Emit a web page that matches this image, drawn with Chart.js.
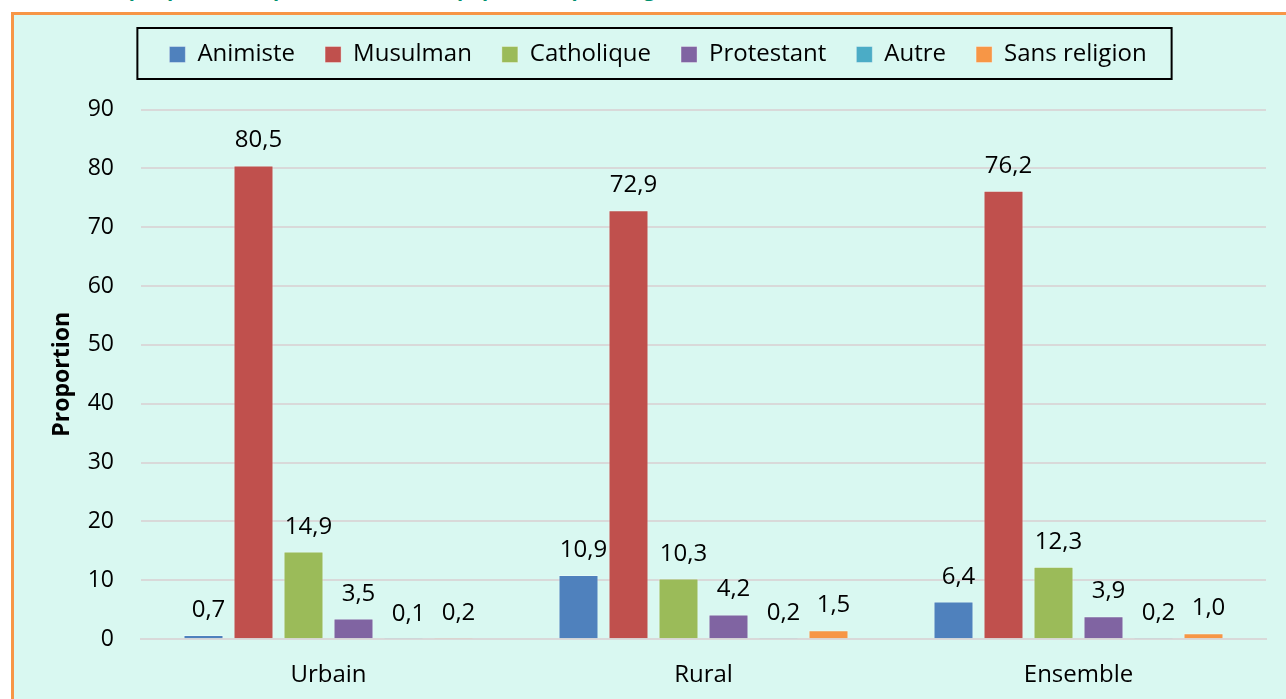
<!DOCTYPE html>
<html>
<head>
<meta charset="utf-8">
<script src="https://cdn.jsdelivr.net/npm/chart.js@4.4.0/dist/chart.umd.min.js"></script>
<style>
  html, body { margin: 0; padding: 0; background: #fff; overflow: hidden; width: 1286px; height: 699px; }
  #title {
    position: absolute; left: 93px; top: -22px; white-space: nowrap;
    font: bold 20px "Open Sans", sans-serif; color: #00906e; line-height: 22px;
  }
  #frame {
    position: absolute; left: 11px; top: 12px; width: 1300px; height: 700px;
    background: #d9f8f1; border-top: 3px solid #f79646; border-left: 3px solid #f79646;
  }
  #wrap { position: absolute; left: 0; top: 0; width: 1272px; height: 685px; }
</style>
</head>
<body>
<div id="title">Graphique 3.1 : Répartition (%) de la population par religion selon le milieu de résidence</div>
<div id="frame"><div id="wrap"><canvas id="chart"></canvas></div></div>
<script>
const categories = ['Urbain', 'Rural', 'Ensemble'];
const seriesNames = ['Animiste', 'Musulman', 'Catholique', 'Protestant', 'Autre', 'Sans religion'];
const animiste = [0.7, 10.9, 6.4];
const musulman = [80.5, 72.9, 76.2];
const catholique = [14.9, 10.3, 12.3];
const protestant = [3.5, 4.2, 3.9];
const autre = [0.1, 0.2, 0.2];
const sansReligion = [0.2, 1.5, 1.0];
const colors = ['#4f81bd', '#c0504d', '#9bbb59', '#8064a2', '#4bacc6', '#f79646'];

const FONT = '"Open Sans", sans-serif';

// ---- legend: extra space below, shifted right, black frame ----
const legendSpace = {
  id: 'legendSpace',
  beforeInit(chart) {
    const fit = chart.legend.fit;
    chart.legend.fit = function () {
      fit.bind(chart.legend)();
      this.height += 33;
    };
  },
  afterLayout(chart) {
    chart.legend.left += 18;
    chart.legend.right += 18;
  }
};
const legendFrame = {
  id: 'legendFrame',
  afterDraw(chart) {
    const boxes = chart.legend.legendHitBoxes;
    if (!boxes || !boxes.length) return;
    const first = boxes[0], last = boxes[boxes.length - 1];
    const ctx = chart.ctx;
    ctx.save();
    ctx.strokeStyle = '#000';
    ctx.lineWidth = 2;
    const x0 = first.left - 32, x1 = last.left + last.width + 25;
    ctx.strokeRect(x0, 13, x1 - x0, 51);
    ctx.restore();
  }
};

// ---- value labels above bars ----
const valueLabels = {
  id: 'valueLabels',
  afterDatasetsDraw(chart) {
    const ctx = chart.ctx;
    ctx.save();
    ctx.font = '24px ' + FONT;
    ctx.fillStyle = '#000';
    ctx.textAlign = 'center';
    ctx.textBaseline = 'alphabetic';
    chart.data.datasets.forEach((ds, i) => {
      chart.getDatasetMeta(i).data.forEach((bar, j) => {
        const txt = ds.data[j].toFixed(1).replace('.', ',');
        ctx.fillText(txt, bar.x + 5, bar.y - 18);
      });
    });
    ctx.restore();
  }
};

const seriesData = [animiste, musulman, catholique, protestant, autre, sansReligion];

new Chart(document.getElementById('chart'), {
  type: 'bar',
  data: {
    labels: categories,
    datasets: seriesNames.map((name, i) => ({
      label: name,
      data: seriesData[i],
      backgroundColor: colors[i],
      borderColor: 'rgba(255,255,255,0.35)',
      borderWidth: 1,
      barPercentage: 0.8,
      categoryPercentage: 0.8
    }))
  },
  options: {
    responsive: true,
    maintainAspectRatio: false,
    animation: false,
    layout: { padding: { top: -2.5, left: 0, right: 20, bottom: -4 } },
    plugins: {
      legend: {
        position: 'top',
        labels: {
          boxWidth: 16, boxHeight: 16, padding: 30,
          color: '#000', font: { family: FONT, size: 24 }
        }
      },
      tooltip: { enabled: false }
    },
    scales: {
      x: {
        grid: { display: false },
        border: { display: true, color: '#d9d9d9', width: 2 },
        ticks: { color: '#000', padding: 14, font: { family: FONT, size: 24 } }
      },
      y: {
        min: 0, max: 90,
        afterFit: (scale) => { scale.width = 127; },
        grid: { color: '#d9d9d9', lineWidth: 2, drawTicks: false },
        border: { display: false },
        ticks: { stepSize: 10, color: '#000', padding: 27, font: { family: FONT, size: 23 } },
        title: {
          display: true, text: 'Proportion', color: '#000',
          font: { family: FONT, size: 23, weight: 'bold' },
          padding: { top: 35, bottom: 0 }
        }
      }
    }
  },
  plugins: [legendSpace, legendFrame, valueLabels]
});
</script>
</body>
</html>
